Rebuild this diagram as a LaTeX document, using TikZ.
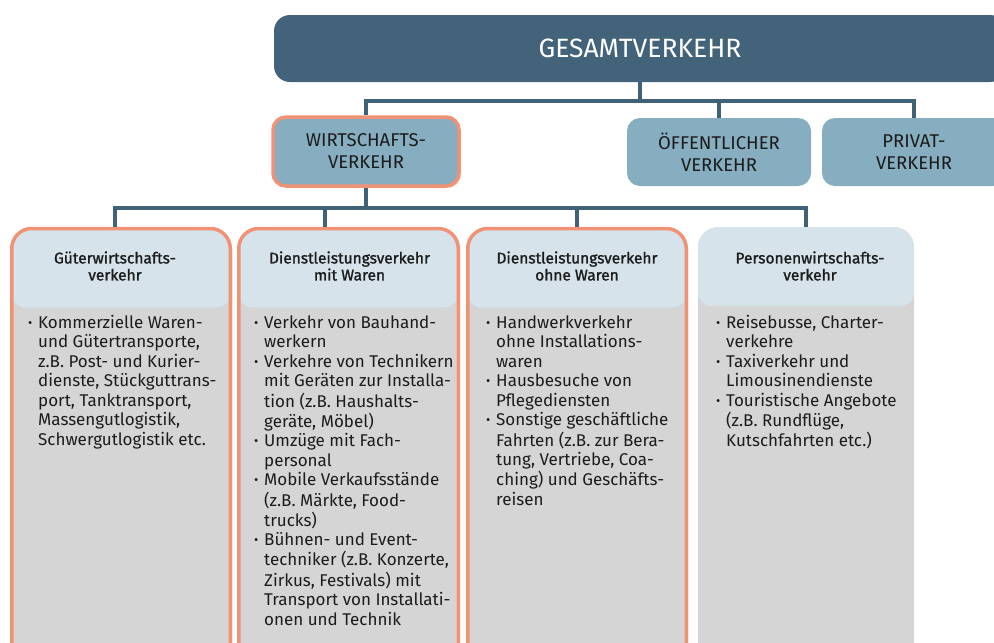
\documentclass[tikz,border=0pt]{standalone}
\usepackage{fontspec}
\setmainfont{Fira Sans}
\newfontfamily\hdfont[FakeBold=1.3]{Fira Sans}
\usetikzlibrary{shadows}
\definecolor{dblue}{HTML}{42637A}
\definecolor{mblue}{HTML}{86ADC0}
\definecolor{lblue}{HTML}{D6E3EA}
\definecolor{lgray}{HTML}{D5D5D5}
\definecolor{orng}{HTML}{EF9275}
\definecolor{lnk}{HTML}{3F6279}
\definecolor{txt}{HTML}{1C1C1C}
\newcommand\bul{\raisebox{1.2pt}{\fontsize{13}{13}\selectfont\textbullet}}
\begin{document}
\begin{tikzpicture}[x=1pt,y=-1pt,
  link/.style={draw=lnk, line width=4pt, line join=miter},
  topbox/.style={rounded corners=16pt, fill=dblue, text=white, inner sep=0pt,
    font=\fontsize{26.5}{28}\selectfont},
  midbox/.style={rounded corners=13pt, fill=mblue, text=txt, align=center, inner sep=0pt,
    minimum height=68pt, minimum width=184pt, font=\fontsize{18.5}{22}\selectfont},
  hl/.style={draw=orng, line width=3.5pt},
  glow/.style={drop shadow={opacity=0.35, fill=orng, shadow xshift=2pt, shadow yshift=-2pt}},
  colbox/.style={rounded corners=20pt, fill=lgray, inner sep=0pt, anchor=north, minimum height=460pt,
    path picture={\fill[lblue, rounded corners=14pt]
      ([yshift=30pt]path picture bounding box.north west) rectangle
      ([yshift=-79pt]path picture bounding box.north east);}},
  colhead/.style={align=center, text=txt, inner sep=0pt, font=\hdfont\fontsize{15.5}{17}\selectfont},
  collist/.style={anchor=north west, inner sep=0pt, text=txt, font=\fontsize{17}{19.5}\selectfont}
]
\useasboundingbox (0,0) rectangle (994,643);
\clip (0,0) rectangle (994,643);

% top level
\node[topbox, minimum width=732pt, minimum height=67pt] (gesamt) at (640,48.5) {GESAMTVERKEHR};

% second level
\node[midbox, hl, glow, minimum width=186pt, minimum height=69pt] (wirt) at (366,151.5) {WIRTSCHAFTS-\\VERKEHR};
\node[midbox] (oeff) at (719,152) {ÖFFENTLICHER\\VERKEHR};
\node[midbox] (priv) at (914,152) {PRIVAT-\\VERKEHR};

\coordinate (j1) at (640,101);
\draw[link] (gesamt.south) -- (j1);
\draw[link] (wirt.north) -- (wirt.north |- j1) -- (priv.north |- j1) -- (priv.north);
\draw[link] (oeff.north |- j1) -- (oeff.north);

% third level
\node[colbox, hl, glow, minimum width=218.5pt] (c1) at (121,226.75) {};
\node[colbox, hl, glow, minimum width=219.5pt] (c2) at (348.5,226.75) {};
\node[colbox, hl, glow, minimum width=218.5pt] (c3) at (577,226.75) {};
\node[colbox, minimum width=216pt] (c4) at (806,227) {};

\coordinate (d1) at (115,208);
\coordinate (d2) at (325,208);
\coordinate (d3) at (577,208);
\coordinate (d4) at (806,208);
\draw[link] (wirt.south) -- (wirt.south |- d1);
\draw[link] (d1 |- c1.north) -- (d1) -- (d4) -- (d4 |- c4.north);
\draw[link] (d2) -- (d2 |- c2.north);
\draw[link] (d3) -- (d3 |- c3.north);

% column headers
\node[colhead] (h1) at (115,266) {Güterwirtschafts-\\verkehr};
\node[colhead] (h2) at (349.5,266) {Dienstleistungsverkehr\\mit Waren};
\node[colhead] (h3) at (577,266) {Dienstleistungsverkehr\\ohne Waren};
\node[colhead] (h4) at (810,266) {Personenwirtschafts-\\verkehr};

% column lists
\node[collist] (l1) at (28,314.5) {\begin{tabular}{@{}p{10pt}@{}l@{}}
\bul & Kommerzielle Waren-\\
 & und Gütertransporte,\\
 & z.B. Post- und Kurier-\\
 & dienste, Stückguttrans-\\
 & port, Tanktransport,\\
 & Massengutlogistik,\\
 & Schwergutlogistik etc.
\end{tabular}};
\node[collist] (l2) at (254,314.5) {\begin{tabular}{@{}p{10pt}@{}l@{}}
\bul & Verkehr von Bauhand-\\
 & werkern\\
\bul & Verkehre von Technikern\\
 & mit Geräten zur Installa-\\
 & tion (z.B. Haushalts-\\
 & geräte, Möbel)\\
\bul & Umzüge mit Fach-\\
 & personal\\
\bul & Mobile Verkaufsstände\\
 & (z.B. Märkte, Food-\\
 & trucks)\\
\bul & Bühnen- und Event-\\
 & techniker (z.B. Konzerte,\\
 & Zirkus, Festivals) mit\\
 & Transport von Installati-\\
 & onen und Technik
\end{tabular}};
\node[collist] (l3) at (486,314.5) {\begin{tabular}{@{}p{10pt}@{}l@{}}
\bul & Handwerkverkehr\\
 & ohne Installations-\\
 & waren\\
\bul & Hausbesuche von\\
 & Pflegediensten\\
\bul & Sonstige geschäftliche\\
 & Fahrten (z.B. zur Bera-\\
 & tung, Vertriebe, Coa-\\
 & ching) und Geschäfts-\\
 & reisen
\end{tabular}};
\node[collist] (l4) at (716,314.5) {\begin{tabular}{@{}p{10pt}@{}l@{}}
\bul & Reisebusse, Charter-\\
 & verkehre\\
\bul & Taxiverkehr und\\
 & Limousinendienste\\
\bul & Touristische Angebote\\
 & (z.B. Rundflüge,\\
 & Kutschfahrten etc.)
\end{tabular}};
\end{tikzpicture}
\end{document}
